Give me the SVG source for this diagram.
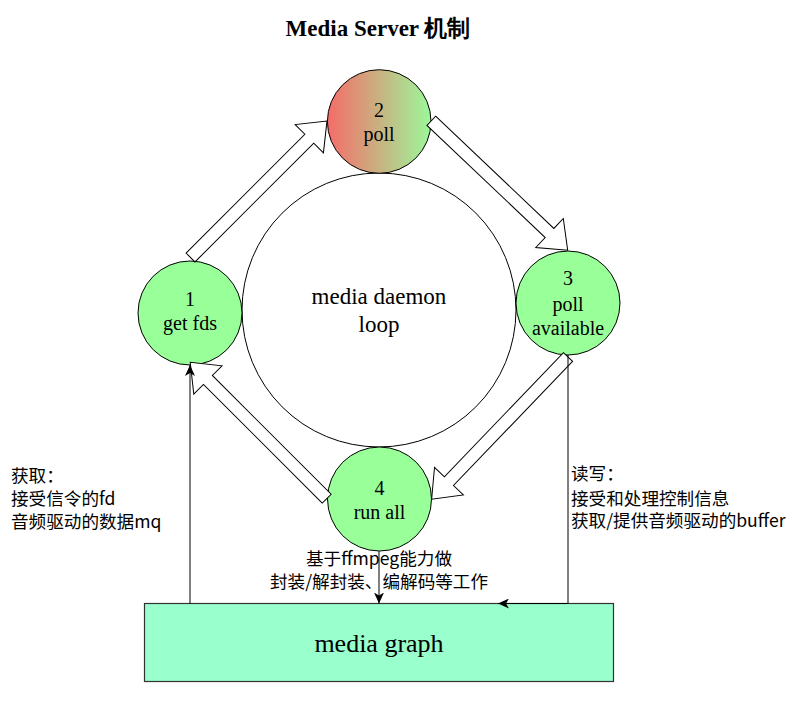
<svg xmlns="http://www.w3.org/2000/svg" width="806" height="708" viewBox="0 0 806 708">
<style>
.node{stroke:#000;stroke-width:1}
.green{fill:#99FF99}
.serif{font-family:"Liberation Serif","Times New Roman",serif;fill:#000;text-anchor:middle}
.lbl{font-family:"Noto Sans CJK SC","Liberation Sans",sans-serif;font-size:17.6px;fill:#000}
.flex{fill:#fff;stroke:#000;stroke-width:1;stroke-linejoin:miter}
.edge{fill:none;stroke:#000;stroke-width:1}
</style>
<defs>
<linearGradient id="g2" x1="0" y1="0" x2="1" y2="0">
<stop offset="0" stop-color="#F56C69"/>
<stop offset="1" stop-color="#9CF89A"/>
</linearGradient>
<marker id="arr" viewBox="0 0 11 10" refX="11" refY="5" markerWidth="11" markerHeight="10" markerUnits="userSpaceOnUse" orient="auto">
<path d="M0,0 L11,5 L0,10 L3,5 Z" fill="#000"/>
</marker>
</defs>
<rect width="806" height="708" fill="#fff"/>
<text x="378" y="36" class="serif" font-size="23" font-weight="bold">Media Server 机制</text>

<g id="node-daemon">
<circle class="node" cx="379" cy="310" r="137" fill="#fff"/>
<text class="serif" font-size="23" x="379" y="304">media daemon</text>
<text class="serif" font-size="23" x="379" y="332">loop</text>
</g>

<g id="node-1">
<circle class="node green" cx="190" cy="313" r="52"/>
<text class="serif" font-size="20" x="190" y="306">1</text>
<text class="serif" font-size="20" x="190" y="330">get fds</text>
</g>

<g id="node-2">
<circle class="node" cx="379.2" cy="121.5" r="51.8" fill="url(#g2)"/>
<text class="serif" font-size="20" x="379" y="116.5">2</text>
<text class="serif" font-size="20" x="379" y="141">poll</text>
</g>

<g id="node-3">
<circle class="node green" cx="568" cy="303" r="52"/>
<text class="serif" font-size="20" x="568" y="285">3</text>
<text class="serif" font-size="20" x="568" y="310.5">poll</text>
<text class="serif" font-size="20" x="568" y="335">available</text>
</g>

<g id="node-4">
<circle class="node green" cx="379.5" cy="499" r="52"/>
<text class="serif" font-size="20" x="379.5" y="494.5">4</text>
<text class="serif" font-size="20" x="379.5" y="519">run all</text>
</g>

<g id="node-graph">
<rect x="144.5" y="603.5" width="469" height="78" fill="#99FFCC" stroke="#333" stroke-width="1.2"/>
<text class="serif" font-size="26" x="379" y="652">media graph</text>
</g>

<g id="connectors">
<polygon class="flex" transform="translate(190.5,257.5) rotate(-45)" points="0,-6.3 168,-6.3 168,-20 193,0 168,20 168,6.3 0,6.3"/>
<polygon class="flex" transform="translate(431.3,120.8) rotate(43.5)" points="0,-6.3 163,-6.3 163,-20 188,0 163,20 163,6.3 0,6.3"/>
<polygon class="flex" transform="translate(568,357) rotate(133.8)" points="0,-6.3 172,-6.3 172,-20 197,0 172,20 172,6.3 0,6.3"/>
<polygon class="flex" transform="translate(326.7,498.7) rotate(-135)" points="0,-6.3 168,-6.3 168,-20 193,0 168,20 168,6.3 0,6.3"/>
<path class="edge" d="M190,603.5 L190,365" marker-end="url(#arr)"/>
<path class="edge" d="M379,551 L379,603.5" marker-end="url(#arr)"/>
<path class="edge" d="M568,355 L568,603.5 L498,603.5" marker-end="url(#arr)"/>
</g>

<g id="edge-labels">
<text class="lbl" x="11" y="481.5">获取：</text>
<text class="lbl" x="11" y="504.5">接受信令的fd</text>
<text class="lbl" x="11" y="527.5">音频驱动的数据mq</text>
<text class="lbl" x="571" y="480">读写：</text>
<text class="lbl" x="571" y="504.5">接受和处理控制信息</text>
<text class="lbl" x="571" y="527">获取/提供音频驱动的buffer</text>
<text class="lbl" x="379" y="564.5" text-anchor="middle">基于ffmpeg能力做</text>
<text class="lbl" x="379" y="588" text-anchor="middle">封装/解封装、编解码等工作</text>
</g>
</svg>
